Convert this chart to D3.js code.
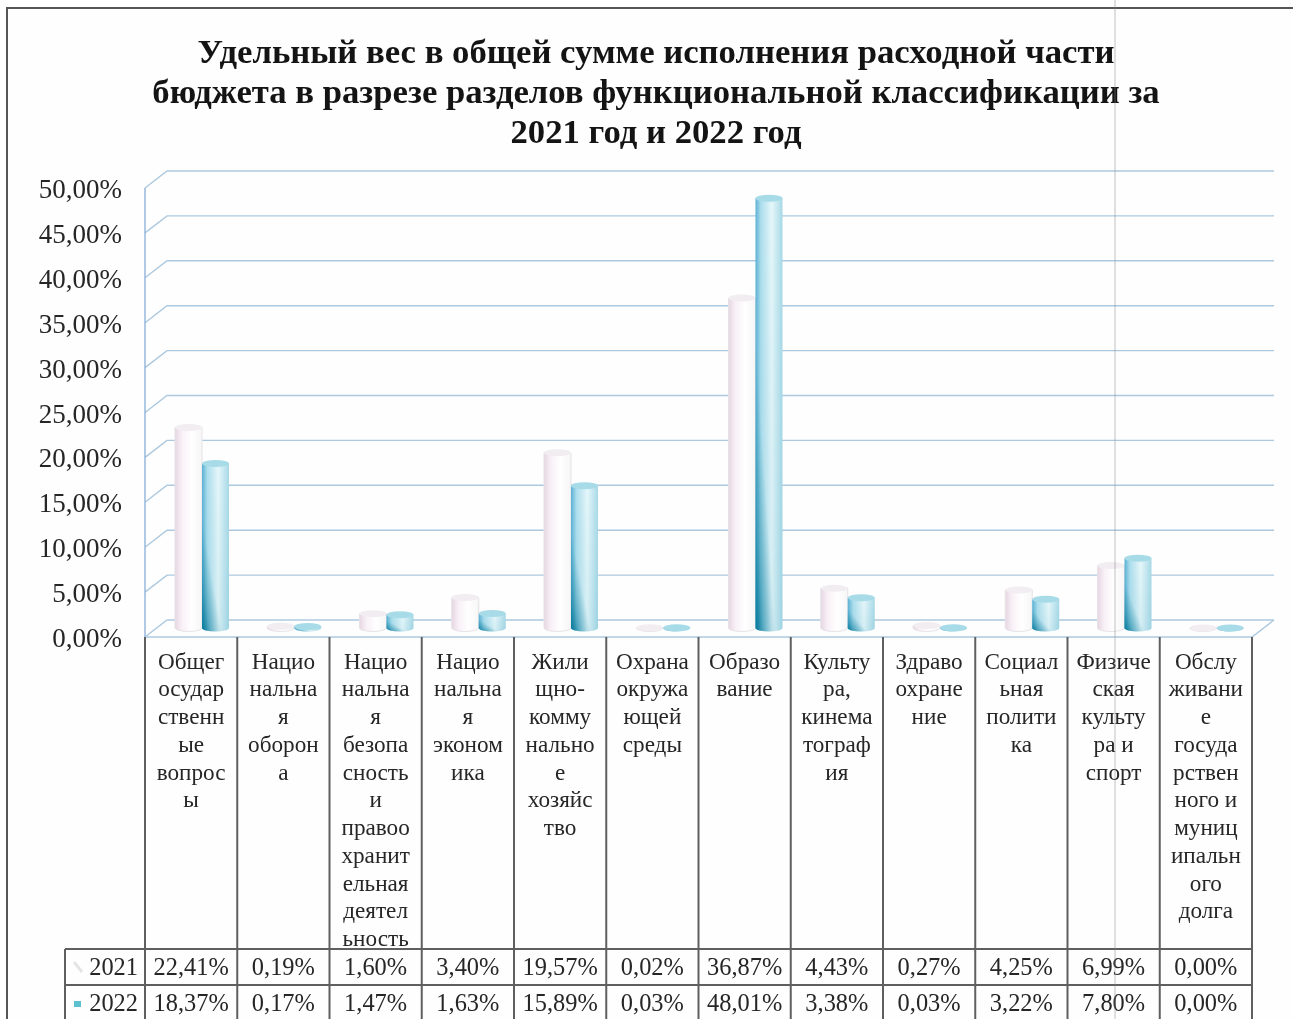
<!DOCTYPE html>
<html>
<head>
<meta charset="utf-8">
<script src="https://cdnjs.cloudflare.com/ajax/libs/d3/7.8.5/d3.min.js"></script>
<style>
  html, body { margin: 0; padding: 0; background: #fefefe; overflow: hidden; }
  svg { filter: blur(0.5px); }
  text { font-family: "Liberation Serif", serif; fill: #262626; }
</style>
</head>
<body>
<svg id="chart" width="1293" height="1019"></svg>
<script>
const titleLines = [
  "Удельный вес в общей сумме исполнения расходной части",
  "бюджета в разрезе разделов функциональной классификации за",
  "2021 год и 2022 год"
];
const categories = [
  ["Общег","осудар","ственн","ые","вопрос","ы"],
  ["Нацио","нальна","я","оборон","а"],
  ["Нацио","нальна","я","безопа","сность","и","правоо","хранит","ельная","деятел","ьность"],
  ["Нацио","нальна","я","эконом","ика"],
  ["Жили","щно-","комму","нально","е","хозяйс","тво"],
  ["Охрана","окружа","ющей","среды"],
  ["Образо","вание"],
  ["Культу","ра,","кинема","тограф","ия"],
  ["Здраво","охране","ние"],
  ["Социал","ьная","полити","ка"],
  ["Физиче","ская","культу","ра и","спорт"],
  ["Обслу","живани","е","госуда","рствен","ного и","муниц","ипальн","ого","долга"]
];
const years = ["2021", "2022"];
const values2021 = [22.41, 0.19, 1.60, 3.40, 19.57, 0.02, 36.87, 4.43, 0.27, 4.25, 6.99, 0.00];
const values2022 = [18.37, 0.17, 1.47, 1.63, 15.89, 0.03, 48.01, 3.38, 0.03, 3.22, 7.80, 0.00];
const yTicks = [0, 5, 10, 15, 20, 25, 30, 35, 40, 45, 50];

const fmt = v => v.toFixed(2).replace(".", ",") + "%";
const svg = d3.select("#chart");

// page frame from the scan
svg.append("path").attr("d", "M7,1019V8H1293").attr("fill", "none").attr("stroke", "#555").attr("stroke-width", 2);

svg.append("g").selectAll("text").data(titleLines).enter().append("text")
  .attr("x", 656)
  .attr("y", (d, i) => 63 + i * 40)
  .attr("text-anchor", "middle")
  .style("font-size", "34.7px").style("font-weight", "bold").style("fill", "#141414")
  .text(d => d);

// plot geometry
const left = 145, right = 1252, floor = 637, top50 = 188, depthX = 22, depthY = 17;
const x = d3.scaleBand().domain(d3.range(categories.length)).range([left, right]);
const y = d3.scaleLinear().domain([0, 50]).range([floor, top50]);
const sub = d3.scaleBand().domain(years).range([0, 54]);
const barY = d3.scaleLinear().domain([0, 50]).range([628, 628 - 8.95 * 50]);

const defs = svg.append("defs");
function grad(id, stops) {
  const g = defs.append("linearGradient").attr("id", id).attr("x1", 0).attr("x2", 1).attr("y1", 0).attr("y2", 0);
  stops.forEach(s => g.append("stop").attr("offset", s[0]).attr("stop-color", s[1]));
}
grad("side2021", [[0, "#e6d6e2"], [0.25, "#f8f0f6"], [0.6, "#ffffff"], [1, "#f6f6f6"]]);
grad("side2022", [[0, "#5fb4d8"], [0.2, "#b4e2f0"], [0.6, "#e8f8fb"], [1, "#a6d8e6"]]);
const shade = defs.append("linearGradient").attr("id", "shade2022")
  .attr("x1", 0.9).attr("y1", 0.1).attr("x2", 0.05).attr("y2", 1);
[[0, 0], [0.62, 0.08], [0.85, 0.55], [1, 1]].forEach(s =>
  shade.append("stop").attr("offset", s[0]).attr("stop-color", "#0f7f9f").attr("stop-opacity", s[1]));

// walls and gridlines
const grid = svg.append("g").attr("fill", "none").attr("stroke", "#adc9df").attr("stroke-width", 1.4);
grid.selectAll("path").data(yTicks).enter().append("path")
  .attr("d", d => `M${left},${y(d)}L${left + depthX},${y(d) - depthY}H${right + depthX}`);
grid.append("path").attr("d", `M${left},${y(0)}V${y(50)}`).attr("stroke", "#8fb4da");
grid.append("path").attr("d", `M${left},${y(0)}H${right}L${right + depthX},${y(0) - depthY}`);

// cylinders
const rows = [];
categories.forEach((c, i) => {
  rows.push({ i, year: "2021", v: values2021[i] });
  rows.push({ i, year: "2022", v: values2022[i] });
});
const bars = svg.append("g").selectAll("g").data(rows).enter().append("g")
  .attr("transform", d => `translate(${x(d.i) + 30 + sub(d.year)},0)`);
const rx = sub.bandwidth() / 2, ry = 3.5;
const cylinder = d => {
  const b = barY(0), t = barY(d.v), w = sub.bandwidth();
  return `M0,${t}V${b}A${rx},${ry} 0 0 0 ${w},${b}V${t}Z`;
};
bars.append("path").attr("d", cylinder).attr("fill", d => `url(#side${d.year})`)
  .attr("stroke", d => d.year === "2021" ? "#e6e2e6" : "none");
bars.filter(d => d.year === "2022").append("path").attr("d", cylinder).attr("fill", "url(#shade2022)");
bars.append("ellipse")
  .attr("cx", rx).attr("cy", d => barY(d.v)).attr("rx", rx).attr("ry", ry)
  .attr("fill", d => d.year === "2021" ? "#f1edf0" : "#a8dbe8");

// category table
const tableLine = "#5f5f5f";
const rowTop = 949, rowMid = 985, rowEnd = 1019;
const lines = svg.append("g").attr("stroke", tableLine).attr("stroke-width", 2);
lines.selectAll("line.col").data(d3.range(categories.length + 1)).enter().append("line").attr("class", "col")
  .attr("x1", d => left + d * x.bandwidth()).attr("x2", d => left + d * x.bandwidth())
  .attr("y1", floor).attr("y2", rowEnd);
lines.selectAll("line.row").data([rowTop, rowMid]).enter().append("line").attr("class", "row")
  .attr("x1", 65).attr("x2", right).attr("y1", d => d).attr("y2", d => d);
lines.append("line").attr("x1", 65).attr("x2", 65).attr("y1", rowTop).attr("y2", rowEnd);

const catText = svg.append("g").selectAll("g").data(categories).enter().append("g");
catText.selectAll("text").data((d, i) => d.map((t, k) => ({ t, k, i }))).enter().append("text")
  .attr("x", d => x(d.i) + x.bandwidth() / 2)
  .attr("y", d => 668.5 + d.k * 27.75)
  .attr("text-anchor", "middle").style("font-size", "23.2px")
  .text(d => d.t);

// y axis labels
svg.append("g").selectAll("text").data(yTicks).enter().append("text")
  .attr("x", 122).attr("y", d => y(d) + 10)
  .attr("text-anchor", "end").style("font-size", "27px")
  .text(d => fmt(d));

// data rows
[values2021, values2022].forEach((vals, r) => {
  const yy = r === 0 ? 975 : 1011;
  svg.append("g").selectAll("text").data(vals).enter().append("text")
    .attr("x", (d, i) => x(i) + x.bandwidth() / 2).attr("y", yy)
    .attr("text-anchor", "middle").style("font-size", "24.4px")
    .text(d => fmt(d));
  svg.append("text").attr("x", 138).attr("y", yy).attr("text-anchor", "end")
    .style("font-size", "24.4px").text(years[r]);
});
svg.append("rect").attr("x", 74).attr("y", 1001).attr("width", 7).attr("height", 6).attr("fill", "#5cc0cf");
svg.append("path").attr("d", "M74,962L82,972").attr("stroke", "#e4e4e4").attr("stroke-width", 3);

// scan fold
svg.append("line").attr("x1", 1115).attr("x2", 1115).attr("y1", 0).attr("y2", 1019)
  .attr("stroke", "#888").attr("stroke-opacity", 0.35).attr("stroke-width", 1.5);
</script>
</body>
</html>
